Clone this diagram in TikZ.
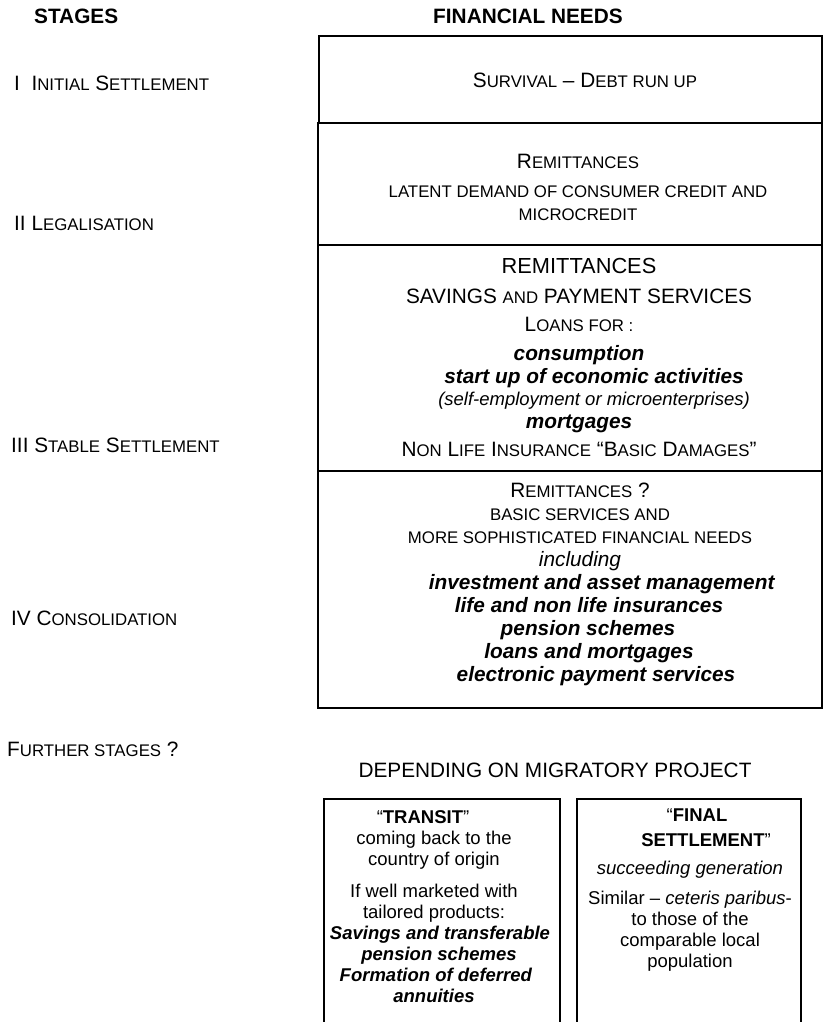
\documentclass[tikz,border=0pt]{standalone}
\usepackage{fontspec}
\setmainfont{Liberation Sans}
\newcommand{\capsm}[1]{{\fontsize{16.8}{16.8}\selectfont #1}}

\begin{document}
\begin{tikzpicture}[x=1pt,y=-1pt]
  \tikzset{stage/.style = {anchor=west, inner sep=0pt, font=\fontsize{20.8}{23}\selectfont},
           need/.style = {align=center, inner sep=0pt, font=\fontsize{20.8}{23}\selectfont},
           frame/.style = {draw, line width=1.2pt}}
  \useasboundingbox (0,0) rectangle (824,1022);
  % headings
  \node[stage, font=\bfseries\fontsize{20.8}{23}\selectfont] (stages) at (34,16) {STAGES};
  \node[need, font=\bfseries\fontsize{20.8}{23}\selectfont] (needs) at (528,16) {FINANCIAL NEEDS};
  % stages
  \node[stage] (initial) at (14,83) {I\ \ I\capsm{NITIAL} S\capsm{ETTLEMENT}};
  \node[stage] (legal) at (14,223) {II L\capsm{EGALISATION}};
  \node[stage] (stable) at (11,445) {III\ S\capsm{TABLE} S\capsm{ETTLEMENT}};
  \node[stage] (consol) at (11,618) {IV C\capsm{ONSOLIDATION}};
  \node[stage] (further) at (7,749) {F\capsm{URTHER STAGES} ?};
  % boxes of needs
  \draw[frame] (319,36) rectangle (822,123);
  \draw[frame] (318,123) rectangle (822,245);
  \draw[frame] (318,245) rectangle (822,471);
  \draw[frame] (318,471) rectangle (822,708);
  \node[need] (survival) at (585,80) {S\capsm{URVIVAL} – D\capsm{EBT RUN UP}};
  \node[need] (remit2) at (578,187) {R\capsm{EMITTANCES}\\[6pt]
    \capsm{LATENT DEMAND OF CONSUMER CREDIT AND}\\ \capsm{MICROCREDIT}};
  \node[need] (remit3) at (579,357) {{\fontsize{21.8}{21}\selectfont REMITTANCES}\\[7pt]
    SAVINGS \capsm{AND} PAYMENT SERVICES\\[5pt]
    L\capsm{OANS FOR :}\\[6pt]
    \textbf{\textit{consumption}}\\
    \hspace*{30pt}\textbf{\textit{start up of economic activities}}\\[-1pt]
    \hspace*{30pt}{\fontsize{18.5}{18}\selectfont\textit{(self-employment or microenterprises)}}\\
    \textbf{\textit{mortgages}}\\[5pt]
    N\capsm{ON} L\capsm{IFE} I\capsm{NSURANCE} “B\capsm{ASIC} D\capsm{AMAGES}”};
  \node[need] (remit4) at (580,584) {R\capsm{EMITTANCES} ?\\
    \capsm{BASIC SERVICES AND}\\
    \capsm{MORE SOPHISTICATED FINANCIAL NEEDS}\\
    \textit{including}\\
    \hspace*{44pt}\textbf{\textit{investment and asset management}}\\
    \hspace*{18pt}\textbf{\textit{life and non life insurances}}\\
    \hspace*{16pt}\textbf{\textit{pension schemes}}\\
    \hspace*{18pt}\textbf{\textit{loans and mortgages}}\\
    \hspace*{32pt}\textbf{\textit{electronic payment services}}};
  % migratory project
  \node[need] (project) at (555,770) {DEPENDING ON MIGRATORY PROJECT};
  \draw[frame] (324,1022) |- (560,799) -- (560,1022);
  \draw[frame] (577,1022) |- (801,799) -- (801,1022);
  \node[need, font=\fontsize{18.5}{21}\selectfont] (transit) at (434,907) {“\textbf{TRANSIT}”\hspace*{22pt}\\
    coming back to the\\ country of origin\\[11pt]
    If well marketed with\\ tailored products:\\
    \hspace*{12pt}\textbf{\textit{Savings and transferable}}\\
    \hspace*{10pt}\textbf{\textit{pension schemes}}\\
    \hspace*{4pt}\textbf{\textit{Formation of deferred}}\\
    \textbf{\textit{annuities}}};
  \node[need, font=\fontsize{18.5}{21}\selectfont] (final) at (690,890) {\hspace*{14pt}“\textbf{FINAL}\\[4pt]
    \hspace*{32pt}\textbf{SETTLEMENT}”\\[7pt]
    \textit{succeeding generation}\\[9pt]
    Similar – \textit{ceteris paribus}-\\ to those of the\\ comparable local\\ population};
\end{tikzpicture}
\end{document}
